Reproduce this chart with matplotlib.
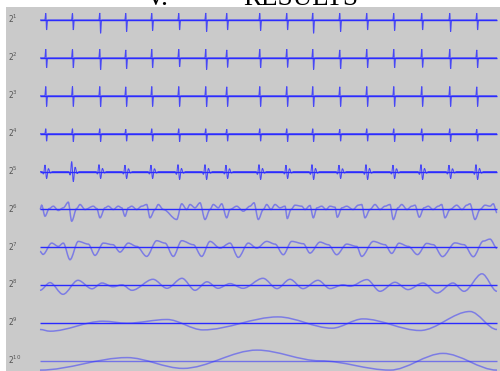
import matplotlib
matplotlib.use('Agg')
import matplotlib.pyplot as plt
from matplotlib.path import Path
from matplotlib.patches import PathPatch

# ---------------- data (x in samples, amplitude in a.u.) ----------------
scale_labels = [r'$2^{1}$', r'$2^{2}$', r'$2^{3}$', r'$2^{4}$', r'$2^{5}$',
                r'$2^{6}$', r'$2^{7}$', r'$2^{8}$', r'$2^{9}$', r'$2^{10}$']

beats = [46, 72.7, 100, 126, 152, 179, 206, 227, 260, 287, 313, 340, 367,
         394, 422, 450, 477]

row1_up = [6.7, 6.7, 7, 6.7, 6.7, 6.7, 7, 6.7, 6.7, 6.7, 7, 6.7, 6.7, 6.7, 6.7, 6.7, 6.7]
row1_down = [10, 10, 13.3, 11.7, 10.7, 10, 11.7, 10, 10.7, 10, 13.3, 11.7, 10, 10.7, 10, 11.7, 10]
row2_up = [8.7, 8.7, 8.7, 8, 8.7, 8.7, 8.7, 8, 8.7, 8.7, 8.7, 8, 8.7, 8.7, 8.7, 8.7, 8]
row2_down = [10, 10, 12, 11, 10, 9, 11.7, 9.5, 10, 9.5, 11.7, 11, 10, 10, 9.5, 11, 10]
row3_up = [9.3, 9.3, 9.3, 9, 9.3, 9.3, 9.3, 9, 9.3, 9.3, 9.3, 9, 9.3, 9.3, 9.3, 9.3, 9]
row3_down = [10.7, 10.7, 11, 10.7, 10.7, 10.7, 11, 10.7, 10.7, 10.7, 11, 10.7, 10.7, 10.7, 10.7, 10.7, 10.7]
row4_up = [5, 5, 5, 4.5, 5, 5, 5, 4.5, 5, 5, 5, 4.5, 5, 5, 5, 5, 4.5]
row4_down = [7.5, 8, 8, 7.5, 7.5, 8, 8, 7.5, 7.5, 8, 8, 7.5, 7.5, 8, 7.5, 8, 7.5]
row5_up = [6.7, 10, 7, 6.5, 6.5, 7, 7, 6.5, 7, 6.5, 7, 6.5, 7, 6.5, 7, 6.5, 7]
row5_down = [7, 10, 7, 7, 7, 8, 8, 7, 8, 7, 8, 7, 8, 7, 8, 7, 8]

row6_x = [40, 41.7, 45, 49.3, 53.3, 58.3, 63.3, 68.3, 71.7, 76.7, 80, 85, 93.3, 96.7,
          100, 105, 108.3, 113.3, 118.3, 121.7, 125, 128.3, 131.7, 136.7, 141.7,
          146.7, 150, 155, 158.3, 163.3, 176.7, 181.7, 186.7, 190, 195, 200, 205,
          210, 213.3, 218.3, 221.7, 226.7, 230, 236.7, 243.3, 250, 254, 258.3,
          263.3, 266.7, 271, 275, 280, 285, 287.3, 291, 295, 301.7, 305, 310,
          313.3, 317, 321.7, 326, 330, 335, 337.3, 342, 346.7, 353, 358.3, 361.7,
          365, 370, 375, 380, 385, 390, 393.3, 398, 401.7, 407, 411.7, 415,
          419.3, 424, 428.3, 433, 438.3, 441.7, 445, 450, 456.7, 462, 466.7, 470,
          475, 480, 485, 490, 493.3, 497]
row6_y = [0, 4.3, -6.7, 1, 3.3, -1, 1.7, 7.3, -11.7, 1, 5, 0, 3.3, 1,
          -8.3, 1.7, 3.3, 0, 3.3, 1.7, -6.7, 1.7, 3.3, 0, 3.3,
          5, -8.3, 0, 5, 0, -10, 5.7, 0, 5, 1.7, 6.7, -10,
          0, 5, 1.7, 5.7, -8.3, 0, 3.3, -1.7, 3.3, 6.7, -10,
          0, 5, 0, 5, 1.7, 3.3, -9, 0, 4.3, 3.3, 0, 4,
          -8.3, 1.7, 3.3, 0, 3.3, 2.3, -7.7, 1.7, 3.3, 0, 4.3, 5,
          -8.3, 0, 5, 0, 3.3, 5, -10, 1.7, 5, 0, 3.3, 4.3,
          -7.7, 1.7, 3.3, 0, 3.3, 5, -8.3, 0, 4.3, 0, 4.3, 5.7,
          -10, 0, 4.3, 3.3, 5.7, -3.3]

row7_x = [40, 43, 51.7, 58.3, 63.3, 70, 78.3, 88.3, 95, 103.3, 113, 120, 128.3,
          136.7, 146.7, 156.7, 165, 173.3, 181.7, 193.3, 201.7, 210, 220, 230,
          238.3, 248.3, 256.7, 266.7, 275, 283.3, 291.7, 303.3, 310, 320, 328.3,
          336.7, 346.7, 356.7, 361.7, 373.3, 385, 391.7, 399, 408.3, 417.5,
          426.7, 433.3, 442.5, 455, 464, 473.3, 483.3, 490, 497]
row7_y = [-4, -7, 4.3, 1, 4.3, -12.3, 6, 3.3, -8, 4.3, 2.7, -4.7, 4.3,
          1, -9, 6.7, 4.3, -9, 6.7, 2.7, -9, 6, -0.7, 4.3,
          -10, 4.3, -0.7, 6, 3.3, -7.3, 6, 3.7, -5.7, 5.3, 2.7,
          -7.3, 3.3, 1, -9, 6, 2.7, -6, 4.2, 1, -7.2,
          4, 2.7, -9.2, 4.5, 2.7, -9.3, 6.3, 8.3, -1]

row8_x = [40, 50, 63, 78, 92, 102, 113, 122, 132, 153, 167, 182, 195, 207, 218,
          230, 243, 263, 277, 290, 303, 318, 330, 343, 350, 367, 380, 395, 408,
          423, 437, 453, 464, 482, 497]
row8_y = [-5, 2.7, -9, 5, -3.5, 2.3, -1.5, 0.5, -5, 6, -3, 7, -5, 3.5, -3,
          1.7, -3, 7, -3.3, 6, -3.3, 5, -3.3, 0.5, -1, 5.7, -6, 3, -4.3,
          2.3, -7.7, 2.3, -6, 11.5, -6]

row9_x = [40, 50, 103, 127, 167, 203, 278, 332, 363, 420, 470, 497]
row9_y = [-6.3, -8, 2, 0, 3.7, -6.7, 6.3, -5, 4.3, -7.3, 11.7, -6.3]

row10_x = [40, 127, 183, 257, 320, 390, 443, 497]
row10_y = [-9, 3.5, -7.3, 11, 0.3, -9, 7.7, -9]

# ---------------- helpers ----------------
row_gap = 37.9
sig_color = '#3030ff'


def spike_points(ups, downs):
    xs, ys = [40], [0]
    for b, u, d in zip(beats, ups, downs):
        xs += [b - 1.2, b - 0.2, b + 0.6, b + 1.6]
        ys += [0, u, -d, 0]
    xs.append(497)
    ys.append(0)
    return xs, ys


def lobed_points(ups, downs):
    # biphasic complex around each beat (shape = style, amplitudes = data)
    xs, ys = [40], [0]
    for b, u, d in zip(beats, ups, downs):
        xs += [b - 4, b - 2.5, b - 1, b + 0.6, b + 2.4, b + 4.4, b + 6.5]
        ys += [0, -0.35 * d, u, -d, 0.45 * u, -0.2 * d, 0]
    xs.append(497)
    ys.append(0)
    return xs, ys


def smooth_path(xs, ys, base):
    verts = [(xs[0], ys[0] + base)]
    codes = [Path.MOVETO]
    for i in range(1, len(xs)):
        dx = xs[i] - xs[i - 1]
        verts += [(xs[i - 1] + dx / 3, ys[i - 1] + base),
                  (xs[i] - dx / 3, ys[i] + base),
                  (xs[i], ys[i] + base)]
        codes += [Path.CURVE4] * 3
    return Path(verts, codes)


rows = [spike_points(row1_up, row1_down),
        spike_points(row2_up, row2_down),
        spike_points(row3_up, row3_down),
        spike_points(row4_up, row4_down),
        lobed_points(row5_up, row5_down),
        (row6_x, row6_y), (row7_x, row7_y), (row8_x, row8_y),
        (row9_x, row9_y), (row10_x, row10_y)]

# ---------------- figure ----------------
fig = plt.figure(figsize=(5.0, 3.71), dpi=100)
fig.patch.set_facecolor('white')
ax = fig.add_axes([6 / 500, 0, 494 / 500, 364 / 371])
ax.set_xlim(6, 500)
ax.set_ylim(-351, 13)
ax.axis('off')
ax.add_patch(plt.Rectangle((0, 0), 1, 1, transform=ax.transAxes,
                           facecolor='#cacaca', edgecolor='none', zorder=0))

for k, ((xs, ys), lab) in enumerate(zip(rows, scale_labels)):
    base = -row_gap * k
    ax.plot([40, 497], [base, base], color='#2a2aff', lw=1.0,
            alpha=1.0 if k < 9 else 0.55, zorder=2,
            solid_capstyle='butt', snap=True)
    if k < 5:
        ax.add_patch(PathPatch(smooth_path(xs, ys, base), fill=False,
                               edgecolor=sig_color, lw=0.75, alpha=0.85, zorder=3))
    else:
        ax.add_patch(PathPatch(smooth_path(xs, ys, base), fill=False,
                               edgecolor=sig_color, lw=1.1, alpha=0.5, zorder=3))
    ax.text(8, base + 1, lab, fontsize=5.5, color='#555555',
            ha='left', va='center')

# cropped section heading at the very top (cut by the page edge, as in the source)
fig.text(157 / 500, 1 - 5 / 371, 'V.', ha='center', va='baseline',
         fontsize=19.5, family='Liberation Serif')
fig.text(243 / 500, 1 - 5 / 371, 'RESULTS', ha='left', va='baseline',
         fontsize=19.5, family='Liberation Serif')

fig.savefig('out.png', dpi=100, facecolor='white')
